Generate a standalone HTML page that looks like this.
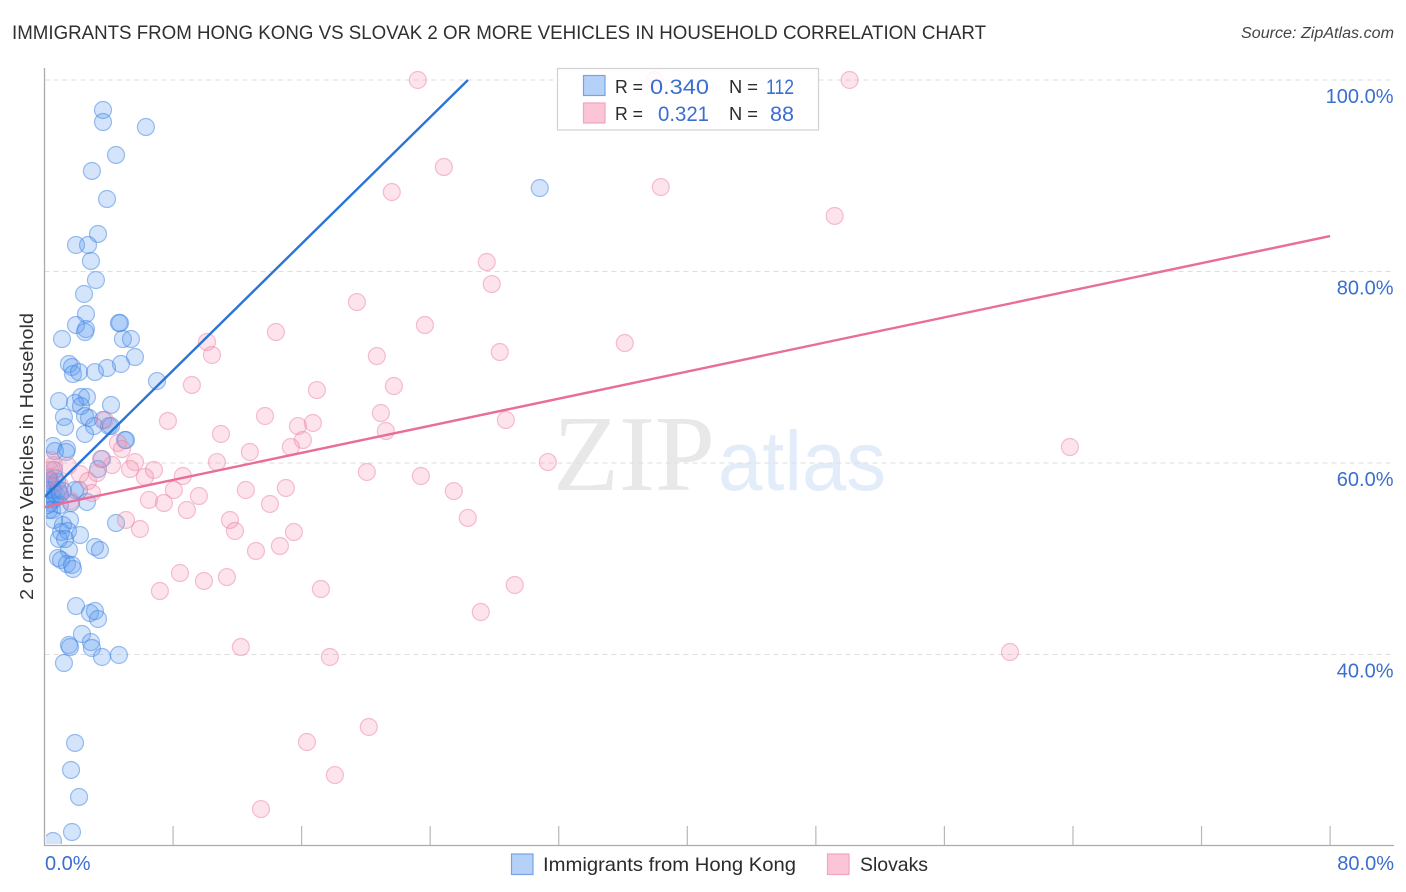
<!DOCTYPE html>
<html lang="en">
<head>
<meta charset="utf-8">
<title>Immigrants from Hong Kong vs Slovak 2 or more Vehicles in Household Correlation Chart</title>
<style>
html,body{margin:0;padding:0;background:#fff;width:1406px;height:892px;overflow:hidden}
svg{display:block;font-family:"Liberation Sans",sans-serif}
</style>
</head>
<body>
<svg id="chart" width="1406" height="892" viewBox="0 0 1406 892" xmlns="http://www.w3.org/2000/svg">
  <defs>
    <clipPath id="plot-clip"><rect x="46" y="60" width="1350" height="784"/></clipPath>
  </defs>
  <text x="12" y="39" font-size="19" fill="#2f2f2f" textLength="974" lengthAdjust="spacingAndGlyphs">IMMIGRANTS FROM HONG KONG VS SLOVAK 2 OR MORE VEHICLES IN HOUSEHOLD CORRELATION CHART</text>
  <text x="1241" y="38" font-size="15.5" font-style="italic" fill="#444" textLength="153" lengthAdjust="spacingAndGlyphs">Source: ZipAtlas.com</text>

  <g>
    <text x="553" y="490" font-family="'Liberation Serif',serif" font-size="108" fill="#e8e8e8" textLength="162" lengthAdjust="spacingAndGlyphs">ZIP</text>
    <text x="718" y="490" font-size="84" fill="#e3edfa" textLength="168" lengthAdjust="spacingAndGlyphs">atlas</text>
  </g>

  <g id="grid"></g>
  <g id="points" clip-path="url(#plot-clip)"></g>
  <g id="trends"></g>
  <g id="axes"></g>

  <text transform="translate(33,456.5) rotate(-90)" font-size="18.5" fill="#333" text-anchor="middle" textLength="287" lengthAdjust="spacingAndGlyphs">2 or more Vehicles in Household</text>

  <g>
    <rect x="557.5" y="68.5" width="261" height="61.5" fill="#fff" fill-opacity="0.85" stroke="#d2d2d2" stroke-width="1.2"/>
    <rect x="583.5" y="75.5" width="21.5" height="20" fill="#b5d1f8" stroke="#74a4e6" stroke-width="1.2"/>
    <rect x="583.5" y="103" width="21.5" height="20" fill="#fcc5d7" stroke="#f3a4bf" stroke-width="1.2"/>
    <text x="615" y="93" font-size="18.5" fill="#2b2b2b" textLength="28" lengthAdjust="spacingAndGlyphs">R =</text>
    <text x="650" y="94" font-size="21" fill="#3a6fd0" textLength="59" lengthAdjust="spacingAndGlyphs">0.340</text>
    <text x="729" y="93" font-size="18.5" fill="#2b2b2b" textLength="29" lengthAdjust="spacingAndGlyphs">N =</text>
    <text x="766" y="94" font-size="21" fill="#3a6fd0" textLength="28" lengthAdjust="spacingAndGlyphs">112</text>
    <text x="615" y="120" font-size="18.5" fill="#2b2b2b" textLength="28" lengthAdjust="spacingAndGlyphs">R =</text>
    <text x="658" y="121" font-size="21" fill="#3a6fd0" textLength="51" lengthAdjust="spacingAndGlyphs">0.321</text>
    <text x="729" y="120" font-size="18.5" fill="#2b2b2b" textLength="29" lengthAdjust="spacingAndGlyphs">N =</text>
    <text x="770" y="121" font-size="21" fill="#3a6fd0" textLength="24" lengthAdjust="spacingAndGlyphs">88</text>
  </g>

  <g>
    <rect x="511.5" y="854" width="21.5" height="20.5" fill="#b5d1f8" stroke="#74a4e6" stroke-width="1.2"/>
    <text x="543" y="871" font-size="19.5" fill="#2b2b2b" textLength="253" lengthAdjust="spacingAndGlyphs">Immigrants from Hong Kong</text>
    <rect x="827.5" y="854" width="21.5" height="20.5" fill="#fcc5d7" stroke="#f3a4bf" stroke-width="1.2"/>
    <text x="860" y="871" font-size="19.5" fill="#2b2b2b" textLength="68" lengthAdjust="spacingAndGlyphs">Slovaks</text>
  </g>
</svg>
<script>
const xTickValues = [0, 8, 16, 24, 32, 40, 48, 56, 64, 72, 80];
const yGridValues = [100, 80, 60, 40];
const yTickLabels = ["100.0%", "80.0%", "60.0%", "40.0%"];
const xEdgeValues = [0, 80];
const xEdgeLabels = ["0.0%", "80.0%"];

const hongKongX = [3.64,3.64,6.31,4.45,2.95,3.89,30.82,3.33,1.96,2.71,2.89,3.20,2.46,2.58,1.96,2.58,2.52,4.63,4.70,1.09,4.88,5.38,5.63,4.76,1.52,1.71,1.77,2.15,3.14,3.89,7.00,0.90,2.27,2.64,1.90,2.27,4.14,1.21,2.52,2.77,1.28,3.64,3.08,4.01,4.14,2.52,5.01,5.07,0.53,1.40,1.34,0.65,3.58,3.33,0.59,0.65,0.40,0.84,2.15,1.90,0.47,0.65,0.34,0.96,2.64,1.65,1.59,1.15,4.45,1.03,1.46,2.21,1.52,0.90,1.28,3.14,3.45,0.84,1.03,1.40,1.71,1.77,1.96,2.83,3.14,3.33,2.33,2.89,2.95,1.52,1.59,3.58,4.63,1.21,1.90,1.65,2.15,1.71,0.53,0.22,0.09,0.34,0.53,0.16,0.72,0.47,0.22,0.78,0.59,0.96,1.15,0.28];
const hongKongY = [96.87,95.61,95.09,92.17,90.50,87.57,88.72,83.92,82.77,82.77,81.10,79.11,77.65,75.56,74.41,73.99,73.68,74.62,74.62,72.95,72.95,72.95,71.07,70.34,70.34,70.03,69.29,69.50,69.50,69.92,68.56,66.47,66.89,66.89,66.27,65.95,66.06,64.80,64.91,64.70,63.76,64.49,63.86,63.86,63.86,63.03,62.40,62.40,61.78,61.46,61.15,61.25,60.42,59.37,59.27,58.43,57.70,57.18,57.18,57.18,56.45,56.24,55.82,55.61,55.93,55.82,54.05,53.52,53.73,52.79,52.90,52.48,50.91,52.06,52.06,51.23,50.91,50.08,49.87,49.45,49.35,48.93,45.06,44.33,44.54,43.71,42.14,41.30,40.68,40.99,40.78,39.74,39.95,39.11,30.76,27.94,25.12,21.46,20.52,55.61,56.14,58.22,57.18,57.18,56.66,55.09,58.43,58.02,54.05,56.76,57.08,55.09];

const slovakX = [23.23,37.97,50.10,24.85,21.61,38.35,49.17,27.52,27.83,19.44,14.40,23.67,10.11,10.42,36.11,28.33,20.68,9.17,16.95,21.74,20.93,7.68,13.72,15.77,16.70,21.24,28.71,10.98,16.08,15.33,12.78,10.73,31.32,20.06,23.42,63.81,8.61,8.05,12.53,15.02,25.47,14.03,9.61,8.86,6.50,7.43,11.54,26.34,11.85,15.52,5.94,13.16,14.65,5.07,8.43,7.18,9.92,11.35,17.20,29.26,27.15,12.22,17.76,60.08,20.18,16.33,18.07,13.47,0.59,1.46,2.21,2.71,2.95,3.27,4.20,4.57,4.82,5.63,5.32,6.25,6.81,3.51,3.76,1.65,0.16,0.34,0.96,0.40];
const slovakY = [100,100,100,90.91,88.30,88.82,85.80,80.99,78.69,76.81,73.68,74.41,72.64,71.28,72.53,71.59,71.17,68.15,67.62,68.04,65.22,64.39,64.91,63.86,64.18,63.34,64.49,63.03,62.40,61.67,61.15,60.10,60.10,59.06,58.64,61.67,58.64,57.18,57.18,57.39,57.07,55.72,56.55,55.09,56.14,55.82,54.05,54.26,52.90,52.79,53.11,50.81,51.33,54.05,48.51,46.63,47.68,48.09,46.84,47.26,44.44,40.78,39.74,40.26,32.43,30.86,27.41,23.86,59.79,59.69,58.85,58.12,56.87,58.95,59.79,62.09,61.46,60.10,59.37,58.54,59.27,60.42,64.49,56.03,58.43,59.27,57.70,60.31];

const hongKongTrendX = [0, 26.35];
const hongKongTrendY = [56.45, 100];
const slovakTrendX = [0, 80];
const slovakTrendY = [55.4, 83.7];

const NS = "http://www.w3.org/2000/svg";
function xScale(v) { return 44.5 + v * 16.07; }
function yScale(v) { return 80 + (100 - v) * 9.575; }
function make(tag, attrs, parent) {
  const el = document.createElementNS(NS, tag);
  for (const k in attrs) el.setAttribute(k, attrs[k]);
  parent.appendChild(el);
  return el;
}

const grid = document.getElementById("grid");
const axes = document.getElementById("axes");
const points = document.getElementById("points");
const trends = document.getElementById("trends");

yGridValues.forEach(function (v, i) {
  const line = make("line", {x1: 44.5, x2: 1394, y1: yScale(v), y2: yScale(v), stroke: "#dedede", "stroke-width": 1, "stroke-dasharray": "5 4"}, grid);
  
  
  const label = make("text", {x: 1393.5, y: yScale(v) + 23, "font-size": 20, fill: "#3a6fd0", "text-anchor": "end"}, axes);
  label.textContent = yTickLabels[i];
  
  
});

const yAxis = make("line", {x1: 44.5, x2: 44.5, y1: 68, y2: 846, stroke: "#ababab", "stroke-width": 1.3}, axes);


const xAxis = make("line", {x1: 44, x2: 1394, y1: 845.5, y2: 845.5, stroke: "#ababab", "stroke-width": 1.3}, axes);



xTickValues.slice(1).forEach(function (v) {
  const tick = make("line", {x1: xScale(v), x2: xScale(v), y1: 826, y2: 845, stroke: "#b8b8b8", "stroke-width": 1.2}, axes);
  
  
});

xEdgeValues.forEach(function (v, i) {
  const isFirst = i === 0;
  const label = make("text", {x: isFirst ? xScale(v) + 0.5 : 1394, y: 870, "font-size": 20, fill: "#3a6fd0", "text-anchor": isFirst ? "start" : "end"}, axes);
  label.textContent = xEdgeLabels[i];
  
  
});

hongKongX.forEach(function (v, i) {
  const c = make("circle", {cx: xScale(v), cy: yScale(hongKongY[i]), r: 8.5, fill: "#5b9bf0", "fill-opacity": 0.27, stroke: "#3f84e0", "stroke-opacity": 0.5, "stroke-width": 1.2}, points);
  
  
});
slovakX.forEach(function (v, i) {
  const c = make("circle", {cx: xScale(v), cy: yScale(slovakY[i]), r: 8.5, fill: "#f78fb0", "fill-opacity": 0.25, stroke: "#ea7fa2", "stroke-opacity": 0.48, "stroke-width": 1.2}, points);
  
  
});

const hkLine = make("line", {x1: xScale(hongKongTrendX[0]), y1: yScale(hongKongTrendY[0]), x2: xScale(hongKongTrendX[1]), y2: yScale(hongKongTrendY[1]), stroke: "#2a74d6", "stroke-width": 2.4}, trends);


const skLine = make("line", {x1: xScale(slovakTrendX[0]), y1: yScale(slovakTrendY[0]), x2: xScale(slovakTrendX[1]), y2: yScale(slovakTrendY[1]), stroke: "#e96d9a", "stroke-width": 2.4}, trends);


</script>
</body>
</html>
